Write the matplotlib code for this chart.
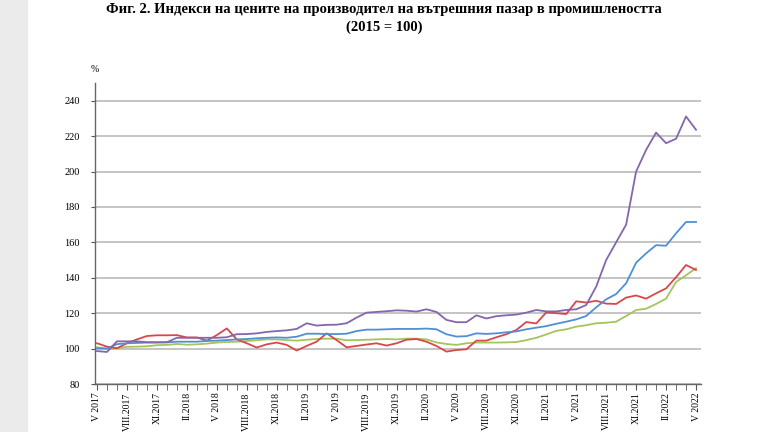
import numpy as np
import matplotlib.pyplot as plt
import matplotlib.patches as patches

# monthly values, V 2017 .. V 2022 (2015 = 100)
purple = [98.6, 98.1, 104.1, 104.1, 104.1, 103.6, 103.6, 103.6, 106.1, 106.1,
          106.1, 106.1, 106.1, 106.4, 108.1, 108.2, 108.6, 109.4, 109.9, 110.3,
          111.1, 114.3, 113.0, 113.4, 113.5, 114.3, 117.5, 120.3, 120.7, 121.1,
          121.6, 121.4, 120.9, 122.2, 120.7, 116.2, 114.9, 114.9, 118.8, 117.0,
          118.3, 118.8, 119.2, 120.3, 121.8, 121.0, 121.0, 121.8, 122.2, 124.6,
          135.0, 150.0, 160.0, 170.0, 200.0, 212.2, 222.0, 216.0, 218.5, 231.1,
          223.6]
blue = [100.2, 100.0, 102.5, 103.0, 103.2, 103.4, 103.4, 103.5, 103.9, 103.9,
        103.9, 104.3, 104.5, 104.8, 105.2, 105.4, 105.8, 106.1, 106.3, 106.1,
        106.7, 108.4, 108.4, 108.2, 108.2, 108.4, 109.9, 110.7, 110.7, 110.9,
        111.1, 111.1, 111.1, 111.3, 110.9, 108.1, 106.8, 107.0, 108.6, 108.3,
        108.6, 109.2, 109.7, 110.9, 111.8, 112.7, 114.0, 115.2, 116.5, 118.4,
        123.3, 127.8, 130.8, 136.9, 148.5, 153.8, 158.4, 158.1, 165.1, 171.5,
        171.5]
green = [100.7, 100.0, 100.2, 101.0, 101.1, 101.3, 101.9, 102.1, 102.6, 102.2,
         102.4, 102.8, 103.4, 103.7, 103.9, 104.3, 104.7, 105.2, 105.2, 104.8,
         104.5, 105.0, 105.4, 105.6, 105.6, 104.7, 104.8, 105.0, 105.2, 105.4,
         105.2, 105.6, 105.6, 105.2, 103.5, 102.6, 102.1, 103.0, 103.4, 103.4,
         103.4, 103.5, 103.7, 104.8, 106.1, 108.0, 110.0, 110.9, 112.4, 113.2,
         114.3, 114.6, 115.2, 118.4, 121.8, 122.5, 125.2, 128.2, 137.6, 141.4,
         145.4]
red = [103.0, 101.1, 100.2, 103.0, 105.2, 107.1, 107.5, 107.5, 107.6, 106.3,
       106.3, 104.5, 107.6, 111.4, 105.2, 103.0, 100.6, 102.4, 103.4, 102.1,
       98.9, 101.5, 103.9, 108.6, 104.8, 100.7, 101.5, 102.3, 103.0, 101.7,
       103.0, 105.0, 105.4, 103.9, 101.5, 98.3, 99.2, 99.6, 104.5, 104.5,
       106.4, 108.1, 110.5, 115.0, 114.2, 120.4, 120.0, 119.5, 126.7, 126.0,
       127.0, 125.4, 125.2, 128.8, 130.0, 128.2, 131.2, 134.0, 140.3, 147.2,
       144.4]

tick_labels = ['V 2017', 'VIII.2017', 'XI.2017', 'II.2018', 'V 2018', 'VIII.2018',
               'XI.2018', 'II.2019', 'V 2019', 'VIII.2019', 'XI.2019', 'II.2020',
               'V 2020', 'VIII.2020', 'XI.2020', 'II.2021', 'V 2021', 'VIII.2021',
               'XI.2021', 'II.2022', 'V 2022']

serif = 'Liberation Serif'
x = np.arange(len(blue))

fig = plt.figure(figsize=(7.68, 4.32), dpi=100)
fig.patches.append(patches.Rectangle((0, 0), 27 / 768, 1, transform=fig.transFigure,
                                     color='#ebebeb', zorder=-1))
ax = fig.add_axes([95 / 768, 48 / 432, 606 / 768, 301 / 432])

for yv in range(80, 241, 20):
    ax.axhline(yv, color='#c4c4c4', lw=1.4, zorder=1)

ax.plot(x, green, color='#a3c55c', lw=1.3, zorder=3)
ax.plot(x, red, color='#d9474a', lw=1.3, zorder=3)
ax.plot(x, blue, color='#4f8fd6', lw=1.3, zorder=3)
ax.plot(x, purple, color='#8466ac', lw=1.3, zorder=3)

ax.set_xlim(-0.2, 60.5)
ax.set_ylim(80, 250)
ax.set_yticks(range(80, 241, 20))
ax.set_xticks(x[::3])
ax.set_xticklabels(tick_labels, rotation=90, fontsize=7, family=serif)
ax.set_xticks(x, minor=True)
for lab in ax.get_yticklabels():
    lab.set_family(serif)
    lab.set_fontsize(7.5)
ax.tick_params(axis='x', which='both', length=4, color='#555555', pad=2)
ax.tick_params(axis='y', length=3, color='#555555', pad=8)

for s in ['top', 'right']:
    ax.spines[s].set_visible(False)
for s in ['left', 'bottom']:
    ax.spines[s].set_color('#666666')
    ax.spines[s].set_linewidth(1.0)

fig.text(95 / 768, 1 - 70 / 432, '%', fontsize=7, family=serif, ha='center', va='center')
fig.text(0.5, 1 - 10 / 432,
         'Фиг. 2. Индекси на цените на производител на вътрешния пазар в промишлеността',
         fontsize=10.5, family=serif, weight='bold', ha='center', va='center')
fig.text(0.5, 1 - 27 / 432, '(2015 = 100)', fontsize=10.5, family=serif,
         weight='bold', ha='center', va='center')

fig.savefig('out.png', dpi=100)
